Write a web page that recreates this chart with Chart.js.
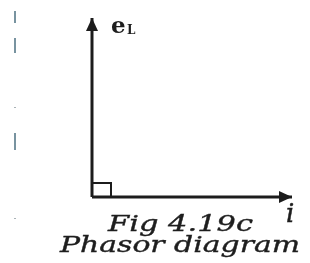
<!DOCTYPE html>
<html>
<head>
<meta charset="utf-8">
<style>
  body { margin: 0; background: #fff; }
  #chart { display: block; }
</style>
<script src="https://cdn.jsdelivr.net/npm/chart.js@4.4.0/dist/chart.umd.min.js"></script>
</head>
<body>
<canvas id="chart" width="310" height="263"></canvas>
<script>
// phasors: magnitude (arbitrary units) and angle in degrees
const phasorNames = ["i", "e"];
const phasorSubs = ["", "L"];
const phasorMag = [10, 8.95];
const phasorAngle = [0, 90];

// right angle marker (width, height in data units)
const markerSize = [0.95, 0.7];

// caption lines
const captionLines = ["Fig 4.19c", "Phasor diagram"];

// faint scan marks at the left edge (x, y0, y1)
const scanX = [-3.85, -3.85, -3.85, -3.85, -3.85];
const scanY0 = [9.3, 7.95, 4.5, 3.2, -1.05];
const scanY1 = [8.7, 7.2, 4.45, 2.35, -1.1];

function tip(k) {
  const a = phasorAngle[k] * Math.PI / 180;
  return { x: Math.round(phasorMag[k] * Math.cos(a) * 100) / 100, y: Math.round(phasorMag[k] * Math.sin(a) * 100) / 100 };
}

const datasets = [];
phasorMag.forEach((m, k) => {
  datasets.push({
    data: [{ x: 0, y: 0 }, tip(k)],
    borderColor: "#1c1c1c",
    borderWidth: 3,
    pointRadius: 0,
    showLine: true,
    fill: false
  });
});
datasets.push({
  data: [{ x: 0, y: markerSize[1] }, { x: markerSize[0], y: markerSize[1] }, { x: markerSize[0], y: 0 }],
  borderColor: "#1c1c1c",
  borderWidth: 2,
  pointRadius: 0,
  showLine: true,
  fill: false
});
scanX.forEach((x, k) => {
  datasets.push({
    data: [{ x: x, y: scanY0[k] }, { x: x, y: scanY1[k] }],
    borderColor: k == 2 || k == 4 ? "#a9b2b6" : "#7893a0",
    borderWidth: 2,
    pointRadius: 0,
    showLine: true,
    fill: false
  });
});

const phasorPlugin = {
  id: "phasor",
  afterDatasetsDraw(chart) {
    const ctx = chart.ctx;
    const xs = chart.scales.x, ys = chart.scales.y;
    ctx.save();
    ctx.fillStyle = "#1c1c1c";
    phasorMag.forEach((m, k) => {
      const t = tip(k);
      const px = xs.getPixelForValue(t.x), py = ys.getPixelForValue(t.y);
      const a = -phasorAngle[k] * Math.PI / 180;
      const len = 13, half = 6;
      ctx.beginPath();
      ctx.moveTo(px, py);
      ctx.lineTo(px - len * Math.cos(a) - half * Math.sin(a), py - len * Math.sin(a) + half * Math.cos(a));
      ctx.lineTo(px - len * Math.cos(a) + half * Math.sin(a), py - len * Math.sin(a) - half * Math.cos(a));
      ctx.closePath();
      ctx.fill();
    });

    // labels
    ctx.fillStyle = "#1e1e1e";
    ctx.strokeStyle = "#1e1e1e";
    ctx.textBaseline = "alphabetic";
    const tE = tip(1);
    const ex = xs.getPixelForValue(tE.x) + 19, ey = ys.getPixelForValue(tE.y) + 15;
    ctx.font = "bold 23px 'DejaVu Serif'";
    ctx.fillText(phasorNames[1], ex, ey);
    ctx.font = "bold 12px 'DejaVu Serif'";
    ctx.fillText(phasorSubs[1], ex + 16, ey + 1);

    const tI = tip(0);
    ctx.font = "italic 26px 'DejaVu Serif'";
    ctx.lineWidth = 0.5;
    ctx.fillText(phasorNames[0], xs.getPixelForValue(tI.x) - 6, ys.getPixelForValue(tI.y) + 25);
    ctx.strokeText(phasorNames[0], xs.getPixelForValue(tI.x) - 6, ys.getPixelForValue(tI.y) + 25);

    // caption
    const cap = [[108, 231, 145], [60, 252, 240]];
    ctx.font = "italic 23px 'DejaVu Serif'";
    ctx.lineWidth = 0.4;
    captionLines.forEach((s, k) => {
      const w = ctx.measureText(s).width;
      ctx.save();
      ctx.translate(cap[k][0], cap[k][1]);
      ctx.scale(cap[k][2] / w, 1);
      ctx.fillText(s, 0, 0);
      ctx.strokeText(s, 0, 0);
      ctx.restore();
    });
    ctx.restore();
  }
};

new Chart(document.getElementById("chart"), {
  type: "scatter",
  data: { datasets: datasets },
  options: {
    responsive: false,
    animation: false,
    layout: { padding: 0 },
    scales: {
      x: { type: "linear", min: -4.6, max: 10.9, display: false },
      y: { type: "linear", min: -3.3, max: 9.85, display: false }
    },
    plugins: { legend: { display: false }, tooltip: { enabled: false } }
  },
  plugins: [phasorPlugin]
});
</script>
</body>
</html>
